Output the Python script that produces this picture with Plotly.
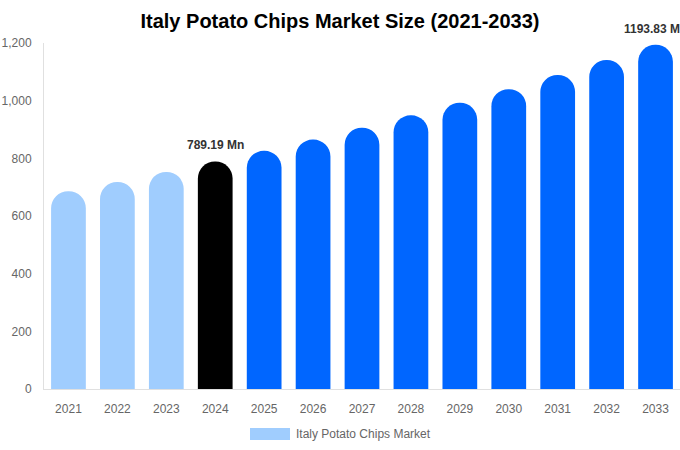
import plotly.graph_objects as go

years = ["2021", "2022", "2023", "2024", "2025", "2026", "2027", "2028", "2029", "2030", "2031", "2032", "2033"]
values = [686, 718, 753, 789.19, 826, 865, 906, 949, 993, 1040, 1089, 1141, 1193.83]
bar_colors = ["#a0cdfe"] * 3 + ["#000000"] + ["#0066ff"] * 9
series_name = "Italy Potato Chips Market"
labels = {"2024": "789.19 Mn", "2033": "1193.83 Mn"}
title = "Italy Potato Chips Market Size (2021-2033)"

fig = go.Figure()
fig.add_trace(go.Bar(
    x=years, y=values, name=series_name,
    marker=dict(color=bar_colors, cornerradius="50%", line=dict(width=0)),
    showlegend=False, hoverinfo="x+y",
))

for yr, txt in labels.items():
    i = years.index(yr)
    fig.add_annotation(x=i, y=values[i], text="<b>" + txt + "</b>",
                       showarrow=False, yanchor="bottom", yshift=7,
                       font=dict(size=12, color="#333333", family="Liberation Sans, Arial, sans-serif"))

# legend swatch + text
fig.add_shape(type="rect", xref="paper", yref="paper",
              x0=(250 - 44) / 636, x1=(290 - 44) / 636,
              y0=-(428 - 389) / 346, y1=-(440 - 389) / 346,
              fillcolor="#a0cdfe", line=dict(width=0))
fig.add_annotation(xref="paper", yref="paper", x=(294 - 44) / 636, y=-(434 - 389) / 346,
                   text=series_name, showarrow=False, xanchor="left", yanchor="middle",
                   font=dict(size=12, color="#666666", family="Liberation Sans, Arial, sans-serif"))

fig.update_layout(
    width=680, height=450,
    margin=dict(l=44, r=0, t=43, b=61),
    paper_bgcolor="white", plot_bgcolor="white",
    bargap=0.29,
    title=dict(text="<b>" + title + "</b>", x=0.5, xanchor="center", y=0.953, yanchor="middle",
               font=dict(size=20, color="#000000", family="Liberation Sans, Arial, sans-serif")),
    font=dict(family="Liberation Sans, Arial, sans-serif", size=12, color="#666666"),
    xaxis=dict(type="category", range=[-0.5, len(years) - 0.5], showgrid=False, showline=True,
               linecolor="#e0e0e0", linewidth=1, ticks="", ticklabelstandoff=9,
               tickfont=dict(size=12, color="#666666"), fixedrange=True),
    yaxis=dict(range=[0, 1200], tickvals=[0, 200, 400, 600, 800, 1000, 1200], tickformat=",",
               showgrid=False, zeroline=False, showline=True, linecolor="#e0e0e0", linewidth=1,
               ticks="", ticklabelstandoff=9,
               tickfont=dict(size=12, color="#666666"), fixedrange=True),
)

fig.write_html("out.html", config={"displayModeBar": False},
               post_script="document.body.style.margin='0';")
